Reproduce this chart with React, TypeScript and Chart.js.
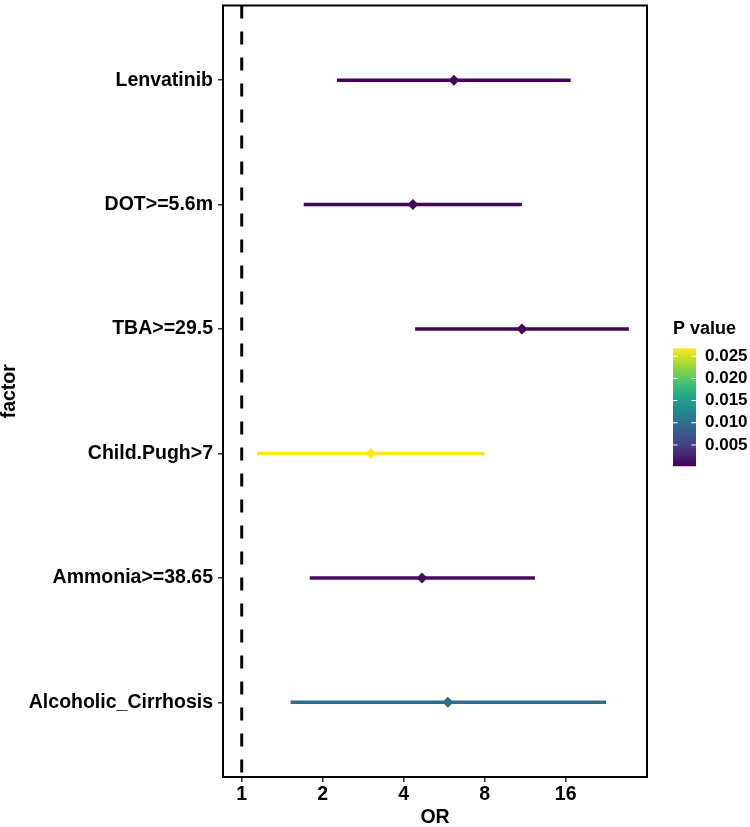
import React, { useEffect, useRef } from "react";
import { Chart, registerables } from "chart.js";

Chart.register(...registerables);

const factors = ["Lenvatinib", "DOT>=5.6m", "TBA>=29.5", "Child.Pugh>7", "Ammonia>=38.65", "Alcoholic_Cirrhosis"];
const orValues = [6.15, 4.33, 11.0, 3.02, 4.68, 5.84];
const lowerCI = [2.26, 1.70, 4.41, 1.14, 1.79, 1.52];
const upperCI = [16.7, 11.0, 27.5, 8.0, 12.3, 22.6];
const pValues = [0.0004, 0.0006, 0.0002, 0.0268, 0.0010, 0.0095];
const xTicks = [1, 2, 4, 8, 16];
const legendTicks = [0.005, 0.01, 0.015, 0.02, 0.025];
const refLine = 1;

const FONT = "'Liberation Sans', Arial, sans-serif";

const VIRIDIS = ["#440154", "#482576", "#414487", "#35608D", "#2A788E", "#21908C", "#22A884", "#43BF71", "#7AD151", "#BBDF27", "#FDE725"];

function hexToRgb(h: string) {
  return [parseInt(h.slice(1, 3), 16), parseInt(h.slice(3, 5), 16), parseInt(h.slice(5, 7), 16)];
}
function viridis(t: number) {
  t = Math.max(0, Math.min(1, t));
  const pos = t * (VIRIDIS.length - 1);
  const i = Math.min(VIRIDIS.length - 2, Math.floor(pos));
  const f = pos - i;
  const a = hexToRgb(VIRIDIS[i]);
  const b = hexToRgb(VIRIDIS[i + 1]);
  const c = a.map((v, k) => Math.round(v + (b[k] - v) * f));
  return `rgb(${c[0]},${c[1]},${c[2]})`;
}

const pMin = Math.min(...pValues);
const pMax = Math.max(...pValues);
const colors = pValues.map((p) => viridis((p - pMin) / (pMax - pMin)));

const boxPlugin = {
  id: "panelBox",
  afterDatasetsDraw(chart: any) {
    const { ctx, chartArea } = chart;
    ctx.save();
    ctx.strokeStyle = "#000";
    ctx.lineWidth = 2;
    ctx.strokeRect(chartArea.left, chartArea.top, chartArea.right - chartArea.left, chartArea.bottom - chartArea.top);
    ctx.restore();
  },
};

const colorbarPlugin = {
  id: "colorbar",
  afterDraw(chart: any) {
    const { ctx, chartArea } = chart;
    const mid = (chartArea.top + chartArea.bottom) / 2;
    const x0 = chartArea.right + 26;
    const barW = 23;
    const barTop = mid - 43;
    const barH = 118;
    const barBottom = barTop + barH;
    ctx.save();
    ctx.fillStyle = "#000";
    ctx.font = `bold 18px ${FONT}`;
    ctx.textAlign = "left";
    ctx.textBaseline = "middle";
    ctx.fillText("P value", x0, mid - 62);
    const g = ctx.createLinearGradient(0, barBottom, 0, barTop);
    for (let i = 0; i <= 20; i++) g.addColorStop(i / 20, viridis(i / 20));
    ctx.fillStyle = g;
    ctx.fillRect(x0, barTop, barW, barH);
    ctx.font = `bold 17px ${FONT}`;
    legendTicks.forEach((v) => {
      const y = barTop + ((pMax - v) / (pMax - pMin)) * barH;
      ctx.strokeStyle = "#fff";
      ctx.lineWidth = 1;
      ctx.beginPath();
      ctx.moveTo(x0, y);
      ctx.lineTo(x0 + 4.6, y);
      ctx.moveTo(x0 + barW - 4.6, y);
      ctx.lineTo(x0 + barW, y);
      ctx.stroke();
      ctx.fillStyle = "#000";
      ctx.fillText(v.toFixed(3), x0 + barW + 9, y);
    });
    ctx.restore();
  },
};

export default function App() {
  const ref = useRef<HTMLCanvasElement | null>(null);
  useEffect(() => {
    if (!ref.current) return;
    Chart.defaults.font.family = FONT;
    const ciSets = factors.map((f, i) => ({
      type: "line" as const,
      label: f,
      data: [
        { x: lowerCI[i], y: i + 1 },
        { x: upperCI[i], y: i + 1 },
      ],
      borderColor: colors[i],
      borderWidth: 3.5,
      pointRadius: 0,
      showLine: true,
      borderCapStyle: "butt",
    }));
    const chart = new Chart(ref.current, {
      type: "scatter",
      data: {
        datasets: [
          {
            type: "line",
            label: "ref",
            data: [
              { x: refLine, y: 0.4 },
              { x: refLine, y: 6.6 },
            ],
            borderColor: "#000",
            borderWidth: 3,
            borderDash: [13, 13],
            pointRadius: 0,
            showLine: true,
          } as any,
          ...(ciSets as any[]),
          {
            type: "scatter",
            label: "OR",
            data: orValues.map((v, i) => ({ x: v, y: i + 1 })),
            pointStyle: "rectRot",
            pointRadius: 5.5,
            backgroundColor: colors,
            borderColor: colors,
            borderWidth: 0,
          } as any,
        ],
      },
      options: {
        animation: false,
        responsive: false,
        devicePixelRatio: 1,
        layout: { padding: { top: 1, right: 103, left: 0, bottom: 0 } },
        plugins: { legend: { display: false }, tooltip: { enabled: false } },
        scales: {
          x: {
            type: "logarithmic",
            min: 0.852,
            max: 32.1,
            afterBuildTicks: (s: any) => {
              s.ticks = xTicks.map((v) => ({ value: v }));
            },
            afterFit: (s: any) => {
              s.height = 50;
              s.paddingLeft = 0;
              s.paddingRight = 0;
            },
            ticks: {
              callback: (v: any) => String(v),
              color: "#000",
              font: { size: 19.5, weight: "bold" },
              padding: 1,
              autoSkip: false,
              maxRotation: 0,
            },
            grid: { drawOnChartArea: false, drawTicks: true, tickLength: 5, color: "#333", lineWidth: 1.5 },
            border: { display: false },
            title: { display: true, text: "OR", color: "#000", font: { size: 19.5, weight: "bold", lineHeight: 1 }, padding: 0 },
          },
          y: {
            type: "linear",
            reverse: true,
            min: 0.4,
            max: 6.6,
            afterBuildTicks: (s: any) => {
              s.ticks = factors.map((_, i) => ({ value: i + 1 }));
            },
            afterFit: (s: any) => {
              s.width = 223;
              s.paddingTop = 0;
              s.paddingBottom = 0;
            },
            ticks: {
              callback: (v: any) => factors[Number(v) - 1] ?? "",
              color: "#000",
              font: { size: 19.5, weight: "bold" },
              padding: 5,
              autoSkip: false,
            },
            grid: { drawOnChartArea: false, drawTicks: true, tickLength: 5, color: "#333", lineWidth: 1.5 },
            border: { display: false },
            title: { display: true, text: "factor", color: "#000", font: { size: 19.5, weight: "bold", lineHeight: 1 }, padding: 0 },
          },
        },
      } as any,
      plugins: [boxPlugin, colorbarPlugin],
    });
    return () => chart.destroy();
  }, []);
  return (
    <div style={{ position: "absolute", left: 0, top: 0, width: 750, height: 827, background: "#fff" }}>
      <canvas ref={ref} width={750} height={827} style={{ width: 750, height: 827, display: "block" }} />
    </div>
  );
}
